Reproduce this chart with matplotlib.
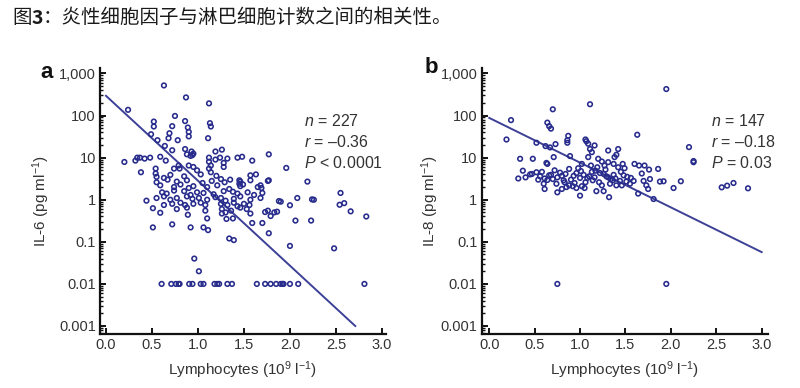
import matplotlib
matplotlib.use('Agg')
import matplotlib.pyplot as plt
import numpy as np
from matplotlib.ticker import FixedLocator, FixedFormatter, LogLocator, NullFormatter

plt.rcParams['font.family'] = ['Liberation Sans', 'DejaVu Sans']
plt.rcParams['mathtext.fontset'] = 'custom'
plt.rcParams['mathtext.rm'] = 'Liberation Sans'
plt.rcParams['mathtext.it'] = 'Liberation Sans:italic'
plt.rcParams['mathtext.bf'] = 'Liberation Sans:bold'

# ---------------- data ----------------
title_parts = ['图', '3', '：炎性细胞因子与淋巴细胞计数之间的相关性。']

x_ticks = [0.0, 0.5, 1.0, 1.5, 2.0, 2.5, 3.0]
x_tick_labels = ['0.0', '0.5', '1.0', '1.5', '2.0', '2.5', '3.0']
y_ticks = [0.001, 0.01, 0.1, 1, 10, 100, 1000]
y_tick_labels = ['0.001', '0.01', '0.1', '1', '10', '100', '1,000']

# Panel a: IL-6 vs lymphocytes
il6_x = [0.24, 0.63, 0.87, 1.12, 0.75, 0.52, 0.52, 0.86, 1.13, 1.14, 0.72, 0.89, 0.90, 0.69, 0.49, 0.90,
         0.68, 1.11, 0.56, 0.78, 0.64, 0.72, 0.86, 0.93, 0.95, 0.94, 1.19, 1.26, 1.77, 0.20, 0.34, 0.37,
         0.42, 0.48, 0.32, 0.59, 0.65, 1.12, 1.19, 1.24, 1.12, 1.32, 1.43, 1.48, 1.59, 0.88, 0.92,
         1.96, 0.38, 0.54, 0.54, 0.55, 0.74, 0.79, 0.80, 0.90, 0.95, 0.99, 1.12, 1.14, 1.14, 1.28, 1.28,
         1.57, 1.63, 1.77, 2.19, 1.03, 0.63, 0.70, 0.85, 1.20, 1.35, 1.45,
         0.55, 0.67, 0.77, 0.88, 1.05, 1.15, 1.25, 1.29, 1.45, 1.46, 1.57, 1.68, 1.76,
         0.59, 0.74, 0.81, 0.90, 0.95, 1.10, 1.21, 1.34, 1.46, 1.65, 1.69, 1.49,
         0.61, 0.66, 0.85, 0.92, 0.99, 1.06, 1.17, 1.28, 1.43, 1.54, 1.61, 1.70, 1.38, 0.74,
         0.44, 0.55, 0.63, 0.70, 0.77, 0.88, 0.94, 1.01, 1.10, 1.19, 1.25, 1.30, 1.39, 1.46, 1.57, 1.68,
         1.90, 2.26, 2.55, 2.08,
         0.63, 0.72, 0.81, 0.86, 0.95, 1.03, 1.08, 1.25, 1.32, 1.39, 1.43, 1.50, 1.56, 1.88, 2.54, 2.59,
         0.77, 0.88, 1.08, 1.26, 1.30, 1.36, 1.46, 1.53, 1.76, 1.83, 2.24,
         0.51, 0.59, 0.89, 1.10, 1.26, 1.31, 1.38, 1.57, 1.73, 1.79, 1.86, 2.00, 2.66, 2.83, 0.51, 0.72,
         0.92, 1.06, 1.11, 1.59, 1.70, 2.06, 2.23, 1.77, 1.34, 1.39, 2.00, 2.48, 0.96, 1.01,
         0.605, 0.71, 0.76, 0.79, 0.80, 0.905, 0.94, 1.03, 1.06, 1.18, 1.21, 1.23, 1.32, 1.37, 1.64, 1.73,
         1.79, 1.85, 1.90, 1.92, 1.93, 2.00, 2.09, 2.81]
il6_y = [137, 520, 270, 195, 98, 72, 55, 74, 66, 55, 56, 52, 41, 38, 36, 32,
         29, 29, 26, 26, 19, 15, 16, 14, 12.5, 11.5, 14, 15.5, 12, 7.9, 10, 10,
         9.5, 10, 8.5, 10.5, 8.5, 10, 9, 10, 8, 9.5, 10, 10.5, 8.5, 12, 11,
         5.7, 4.5, 5.5, 4.2, 3.5, 5.5, 6.5, 5.5, 6.5, 6, 5, 5.5, 4.5, 6.5, 6, 7.5,
         3.8, 4, 2.9, 2.7, 4, 3.3, 3.9, 3.6, 3.7, 3.0, 2.9,
         2.6, 3.0, 2.7, 2.9, 2.5, 2.8, 3.1, 2.6, 2.4, 2.7, 2.9, 2.2, 2.8,
         2.2, 2.0, 2.3, 1.9, 2.1, 2.0, 2.2, 1.8, 2.1, 2.0, 1.9, 2.3,
         1.5, 1.4, 1.6, 1.3, 1.5, 1.45, 1.35, 1.6, 1.4, 1.5, 1.3, 1.45, 1.55, 1.65,
         0.95, 1.1, 1.2, 1.0, 1.1, 1.2, 1.05, 1.1, 1.0, 1.15, 1.1, 0.95, 1.05, 1.2, 1.0, 1.1,
         0.9, 1.0, 1.45, 1.1,
         0.75, 0.8, 0.85, 0.75, 0.8, 0.85, 0.75, 0.8, 0.75, 0.85, 0.7, 0.8, 0.75, 0.93, 0.76, 0.83,
         0.6, 0.65, 0.55, 0.6, 0.5, 0.55, 0.65, 0.6, 0.55, 0.5, 1.02,
         0.63, 0.49, 0.44, 0.36, 0.47, 0.35, 0.36, 0.47, 0.51, 0.41, 0.52, 0.74, 0.53, 0.40, 0.22, 0.26,
         0.22, 0.22, 0.19, 0.28, 0.28, 0.32, 0.32, 0.16, 0.12, 0.11, 0.08, 0.07, 0.04, 0.02,
         0.01, 0.01, 0.01, 0.01, 0.01, 0.01, 0.01, 0.01, 0.01, 0.01, 0.01, 0.01, 0.01, 0.01, 0.01, 0.01,
         0.01, 0.01, 0.01, 0.01, 0.01, 0.01, 0.01, 0.01]
il6_fit_x = [0.0, 2.71]
il6_fit_y = [295, 0.001]
il6_stats = ['$n$ = 227', '$r$ = \u20130.36', '$P$ < 0.0001']

# Panel b: IL-8 vs lymphocytes
il8_x = [1.95, 1.11, 0.70, 0.24, 0.64, 0.66, 0.68, 0.19, 0.87, 0.86, 0.86, 1.06, 1.07, 1.09, 1.16, 1.63,
         0.52, 0.62, 0.67, 0.73, 2.20, 2.25, 2.25, 1.11, 1.13, 1.31, 1.42, 1.40, 1.38, 0.89, 0.71, 0.34,
         0.48, 0.63, 0.64, 1.09, 1.20, 1.24, 1.27, 1.31, 1.37, 1.42, 1.47, 1.49, 1.60, 1.65, 1.71, 1.76,
         1.86, 1.12, 1.02, 1.19,
         0.32, 0.37, 0.40, 0.47, 0.52, 0.56, 0.61, 0.64, 0.68, 0.70, 0.75, 0.80, 0.84, 0.88, 0.93, 0.96,
         1.04, 1.10, 1.16, 1.22, 1.26, 1.31, 1.37, 1.39, 1.44, 1.51, 1.59, 1.70, 1.77, 1.88, 1.92, 2.03,
         2.11,
         0.61, 0.74, 0.75, 0.80, 0.85, 0.88, 0.92, 0.96, 1.02, 1.05, 1.18, 1.26, 1.33, 1.40, 1.46, 1.55,
         1.64, 1.73, 1.75, 1.00, 1.32, 1.81, 2.56, 2.62, 2.69, 2.85,
         0.58, 0.66, 0.72, 0.78, 0.83, 0.90, 0.98, 1.01, 1.08, 1.14, 1.17, 1.21, 1.28, 1.34, 1.45, 1.52,
         0.45, 0.54, 0.60, 0.82, 0.94, 1.00, 1.06, 1.13, 1.24, 1.29, 1.36, 1.48, 1.56, 1.68,
         0.75, 1.95]
il8_y = [427, 186, 141, 78, 68, 56, 49, 27, 33, 26, 22.6, 27, 24.5, 21.4, 19.5, 35,
         22.6, 18.8, 17.5, 21, 17.8, 7.8, 8.3, 16, 13.5, 14.8, 16, 11.7, 10.3, 10.9, 10.3, 9.4,
         9.4, 7.5, 7.1, 10.3, 9.4, 8.1, 6.5, 7.8, 7.1, 5.9, 7.1, 5.6, 7.1, 6.5, 6.5, 5.2,
         5.4, 6.5, 7.1, 5.9,
         3.2, 4.9, 3.4, 4.1, 4.5, 3.6, 3.2, 2.95, 3.9, 3.1, 3.4, 3.7, 4.1, 5.4, 3.7, 4.3,
         3.9, 3.6, 3.4, 4.3, 4.1, 3.4, 3.9, 3.2, 2.8, 2.7, 2.8, 2.8, 3.1, 2.7, 2.75, 1.9,
         2.75,
         1.8, 2.4, 1.5, 1.8, 2.0, 2.2, 2.1, 1.9, 2.1, 1.9, 1.6, 1.6, 2.4, 2.2, 2.2, 2.4,
         1.4, 2.2, 1.8, 1.25, 1.15, 1.04, 1.97, 2.16, 2.5, 1.87,
         4.6, 3.8, 5.0, 4.4, 2.6, 3.0, 5.6, 4.8, 3.3, 2.9, 4.9, 2.6, 5.2, 3.1, 4.6, 3.5,
         4.0, 3.0, 2.4, 2.9, 2.5, 3.3, 2.6, 4.6, 2.2, 3.6, 2.9, 3.8, 3.3, 4.2,
         0.01, 0.01]
il8_fit_x = [0.0, 3.0]
il8_fit_y = [88, 0.057]
il8_stats = ['$n$ = 147', '$r$ = \u20130.18', '$P$ = 0.03']

# ---------------- style ----------------
MARK = '#272b8c'
LINE = '#3c4096'
TXT = '#333333'

fig = plt.figure(figsize=(8.0, 3.88), dpi=100)
fig.patch.set_facecolor('white')

ax_a = fig.add_axes([0.125, 0.1392, 0.357, 0.6855])
ax_b = fig.add_axes([0.602, 0.1392, 0.358, 0.6855])


def style_axis(ax, xs, ys, fx, fy, stats, ylabel, xlim, label_x, stats_x):
    ax.scatter(xs, ys, s=11, facecolors='none', edgecolors=MARK, linewidths=1.15, zorder=3)
    ax.plot(fx, fy, color=LINE, lw=1.4, zorder=2)
    ax.set_yscale('log')
    ax.set_xlim(*xlim)
    ax.set_ylim(10 ** -3.19, 10 ** 3.13)
    ax.xaxis.set_major_locator(FixedLocator(x_ticks))
    ax.xaxis.set_major_formatter(FixedFormatter(x_tick_labels))
    ax.yaxis.set_major_locator(FixedLocator(y_ticks))
    ax.yaxis.set_major_formatter(FixedFormatter(y_tick_labels))
    ax.yaxis.set_minor_locator(LogLocator(base=10, subs=np.arange(2, 10), numticks=20))
    ax.yaxis.set_minor_formatter(NullFormatter())
    for s in ['top', 'right']:
        ax.spines[s].set_visible(False)
    for s in ['left', 'bottom']:
        ax.spines[s].set_linewidth(1.6)
        ax.spines[s].set_color('#111111')
    ax.tick_params(axis='both', which='major', direction='in', length=4.5, width=1.4,
                   color='#111111', labelsize=10.5, labelcolor=TXT, pad=3)
    ax.tick_params(axis='y', which='minor', direction='in', length=2.5, width=1.0, color='#111111')
    ax.set_ylabel(ylabel, fontsize=11, color=TXT)
    ax.yaxis.set_label_coords(label_x, 0.5)
    ax.set_xlabel('Lymphocytes (10$^{9}$ l$^{-1}$)', fontsize=11, color=TXT, labelpad=5)
    for i, t in enumerate(stats):
        ax.text(stats_x, 0.80 - i * 0.079, t, transform=ax.transAxes, fontsize=11.5,
                color=TXT, va='center', ha='left')
    ax.set_facecolor('white')


style_axis(ax_a, il6_x, il6_y, il6_fit_x, il6_fit_y, il6_stats, 'IL-6 (pg ml$^{-1}$)',
           (-0.065, 3.04), -0.168, 0.714)
style_axis(ax_b, il8_x, il8_y, il8_fit_x, il8_fit_y, il8_stats, 'IL-8 (pg ml$^{-1}$)',
           (-0.084, 3.07), -0.142, 0.800)

fig.text(0.050, 0.799, 'a', fontsize=16, fontweight='bold', color='#111111', va='baseline')
fig.text(0.531, 0.812, 'b', fontsize=16, fontweight='bold', color='#111111', va='baseline')

# title with bold "3"
cjk = ['Noto Sans CJK SC', 'DejaVu Sans']
t1 = fig.text(0.015, 0.954, title_parts[0], fontsize=14, family=cjk, color='#1a1a1a', va='center')
t2 = fig.text(0, 0, title_parts[1], fontsize=14, family=cjk, fontweight='bold', color='#1a1a1a')
t3 = fig.text(0, 0, title_parts[2], fontsize=14, family=cjk, color='#1a1a1a')
fig.canvas.draw()
r = fig.canvas.get_renderer()
bb1 = t1.get_window_extent(r)
t2.set_position((bb1.x1 / fig.bbox.width, bb1.y0 / fig.bbox.height))
t2.set_va('bottom')
fig.canvas.draw()
bb2 = t2.get_window_extent(r)
t3.set_position((bb2.x1 / fig.bbox.width, bb1.y0 / fig.bbox.height))
t3.set_va('bottom')

fig.savefig('out.png', dpi=100, facecolor='white')
